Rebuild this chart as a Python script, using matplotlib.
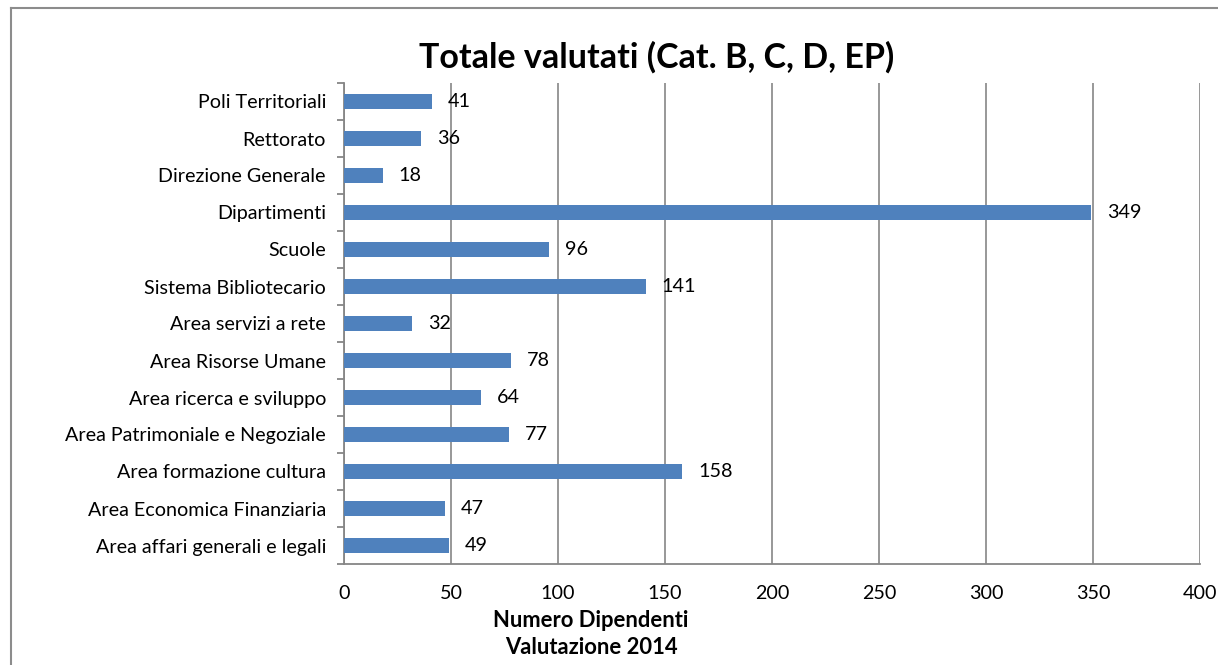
import numpy as np
import matplotlib.pyplot as plt
from matplotlib.lines import Line2D

categorie = ["Area affari generali e legali", "Area Economica Finanziaria",
             "Area formazione cultura", "Area Patrimoniale e Negoziale",
             "Area ricerca e sviluppo", "Area Risorse Umane",
             "Area servizi a rete", "Sistema Bibliotecario", "Scuole",
             "Dipartimenti", "Direzione Generale", "Rettorato",
             "Poli Territoriali"]
valutati = [49, 47, 158, 77, 64, 78, 32, 141, 96, 349, 18, 36, 41]
x_ticks = [0, 50, 100, 150, 200, 250, 300, 350, 400]

plt.rcParams['font.family'] = ['Lato', 'DejaVu Sans']
gray = '#868686'
fs = 14.2

fig = plt.figure(figsize=(12.18, 6.65), dpi=100)
ax = fig.add_axes([344/1218, 1 - 564/665, 856/1218, 481/665])

pos = np.arange(len(categorie))
ax.barh(pos, valutati, height=0.42, color='#4F81BD', zorder=3)
for p, v in zip(pos, valutati):
    ax.annotate(str(v), (v, p), xytext=(11.5, 0), textcoords='offset points',
                va='center', ha='left', fontsize=fs, zorder=4)

ax.set_xlim(0, 400)
ax.set_ylim(-0.5, len(categorie) - 0.5)
ax.set_xticks(x_ticks)
ax.set_xticklabels([str(t) for t in x_ticks], fontsize=fs)
ax.tick_params(axis='x', length=0, pad=15)

ax.set_yticks(np.arange(-0.5, len(categorie)), minor=False)
ax.set_yticklabels([])
ax.set_yticks(pos, minor=True)
ax.set_yticklabels(categorie, minor=True, fontsize=fs)
ax.tick_params(axis='y', which='major', length=5, color=gray, width=1.3)
ax.tick_params(axis='y', which='minor', length=0, pad=13)

ax.grid(axis='x', color=gray, linewidth=1.2, zorder=0)
for s in ['top', 'right']:
    ax.spines[s].set_visible(False)
for s in ['left', 'bottom']:
    ax.spines[s].set_color(gray)
    ax.spines[s].set_linewidth(1.3)

fig.text(657/1218, 1 - 57/665, 'Totale valutati (Cat. B, C, D, EP)',
         ha='center', va='center', fontsize=24.5, fontweight='bold')
fig.text(591/1218, 1 - 634/665, 'Numero Dipendenti\nValutazione 2014',
         ha='center', va='center', fontsize=15.8, fontweight='bold', linespacing=1.3)

# chart area border
fig.add_artist(Line2D([11/1218, 11/1218], [0, 1 - 8/665], color='#8c8c8c', lw=1.5))
fig.add_artist(Line2D([11/1218, 1], [1 - 8/665, 1 - 8/665], color='#8c8c8c', lw=1.5))

fig.savefig('out.png', dpi=100)
